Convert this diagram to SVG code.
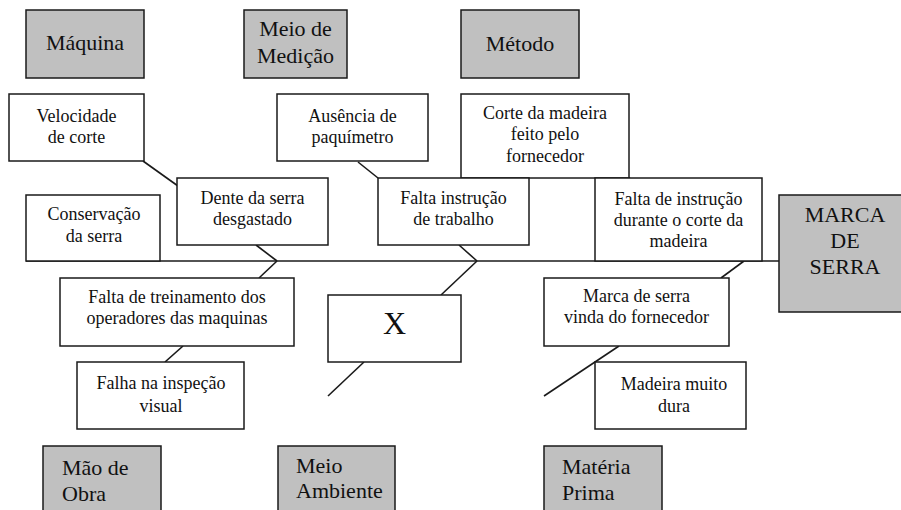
<svg xmlns="http://www.w3.org/2000/svg" width="901" height="510" viewBox="0 0 901 510" font-family="'Liberation Serif', 'DejaVu Serif', 'Times New Roman', Times, serif">
<style>
.cat{fill:#c0c0c0;stroke:#1a1a1a;stroke-width:1.5}
.box{fill:#fff;stroke:#1a1a1a;stroke-width:1.5}
.ln{stroke:#1a1a1a;stroke-width:1.6;fill:none}
text{fill:#111}
.t22{font-size:22px}
.t18{font-size:18px;text-anchor:middle}
.c{text-anchor:middle}
</style>
<rect width="901" height="510" fill="#fff"/>
<g id="connectors">
<line class="ln" x1="26" y1="261" x2="779" y2="261"/>
<line class="ln" x1="143" y1="161" x2="185" y2="191"/>
<line class="ln" x1="256" y1="245" x2="277" y2="261"/>
<line class="ln" x1="358" y1="162" x2="378" y2="178"/>
<line class="ln" x1="459" y1="245" x2="477" y2="261"/>
<line class="ln" x1="625" y1="175" x2="744" y2="261"/>
<line class="ln" x1="277" y1="261" x2="259" y2="278"/>
<line class="ln" x1="165" y1="362" x2="183" y2="346"/>
<line class="ln" x1="477" y1="261" x2="441" y2="295"/>
<line class="ln" x1="364" y1="362" x2="328" y2="396"/>
<line class="ln" x1="744" y1="261" x2="721" y2="278"/>
<line class="ln" x1="619" y1="346" x2="544" y2="396"/>
</g>
<g id="maquina"><rect class="cat" x="26" y="10" width="118" height="68"/><text class="t22 c" x="85" y="50">Máquina</text></g>
<g id="meio-medicao"><rect class="cat" x="244" y="10" width="103" height="68"/><text class="t22 c" x="295.5" y="36">Meio de</text><text class="t22 c" x="295.5" y="63">Medição</text></g>
<g id="metodo"><rect class="cat" x="461" y="10" width="118" height="68"/><text class="t22 c" x="520" y="51">Método</text></g>
<g id="velocidade"><rect class="box" x="9" y="94" width="135" height="67"/><text class="t18" x="76.5" y="122">Velocidade</text><text class="t18" x="76.5" y="143">de corte</text></g>
<g id="ausencia"><rect class="box" x="277" y="94" width="151" height="67"/><text class="t18" x="352.5" y="122">Ausência de</text><text class="t18" x="352.5" y="143">paquímetro</text></g>
<g id="corte-madeira"><rect class="box" x="461" y="94" width="168" height="84"/><text class="t18" x="545" y="119">Corte da madeira</text><text class="t18" x="545" y="140">feito pelo</text><text class="t18" x="545" y="162">fornecedor</text></g>
<g id="conservacao"><rect class="box" x="26" y="195" width="134" height="66"/><text class="t18" x="94" y="220">Conservação</text><text class="t18" x="94" y="242">da serra</text></g>
<g id="dente"><rect class="box" x="177" y="178" width="151" height="67"/><text class="t18" x="252.5" y="204">Dente da serra</text><text class="t18" x="252.5" y="225">desgastado</text></g>
<g id="falta-instrucao"><rect class="box" x="378" y="178" width="151" height="67"/><text class="t18" x="453.5" y="204">Falta instrução</text><text class="t18" x="453.5" y="225">de trabalho</text></g>
<g id="falta-instrucao-corte"><rect class="box" x="595" y="178" width="167" height="83"/><text class="t18" x="678.5" y="205">Falta de instrução</text><text class="t18" x="678.5" y="226">durante o corte da</text><text class="t18" x="678.5" y="247">madeira</text></g>
<g id="marca-serra"><rect class="cat" x="779" y="195" width="130" height="117"/><text class="t22 c" x="845" y="222">MARCA</text><text class="t22 c" x="845" y="248">DE</text><text class="t22 c" x="845" y="274">SERRA</text></g>
<g id="falta-treinamento"><rect class="box" x="60" y="278" width="234" height="68"/><text class="t18" x="177" y="303">Falta de treinamento dos</text><text class="t18" x="177" y="324">operadores das maquinas</text></g>
<g id="falha-inspecao"><rect class="box" x="77" y="362" width="167" height="67"/><text class="t18" x="161" y="389">Falha na inspeção</text><text class="t18" x="161" y="412">visual</text></g>
<g id="x-box"><rect class="box" x="328" y="295" width="133" height="67"/><text class="c" x="394.5" y="334" style="font-size:32px">X</text></g>
<g id="marca-fornecedor"><rect class="box" x="544" y="278" width="185" height="68"/><text class="t18" x="636.5" y="302">Marca de serra</text><text class="t18" x="636.5" y="323">vinda do fornecedor</text></g>
<g id="madeira-dura"><rect class="box" x="595" y="362" width="151" height="67"/><text class="t18" x="674" y="390">Madeira muito</text><text class="t18" x="674" y="412">dura</text></g>
<g id="mao-obra"><rect class="cat" x="43" y="446" width="118" height="70"/><text class="t22" x="62" y="475">Mão de</text><text class="t22" x="62" y="501">Obra</text></g>
<g id="meio-ambiente"><rect class="cat" x="278" y="446" width="117" height="70"/><text class="t22" x="296" y="473">Meio</text><text class="t22" x="296" y="498">Ambiente</text></g>
<g id="materia-prima"><rect class="cat" x="544" y="446" width="118" height="70"/><text class="t22" x="562" y="474">Matéria</text><text class="t22" x="562" y="500">Prima</text></g>
</svg>
